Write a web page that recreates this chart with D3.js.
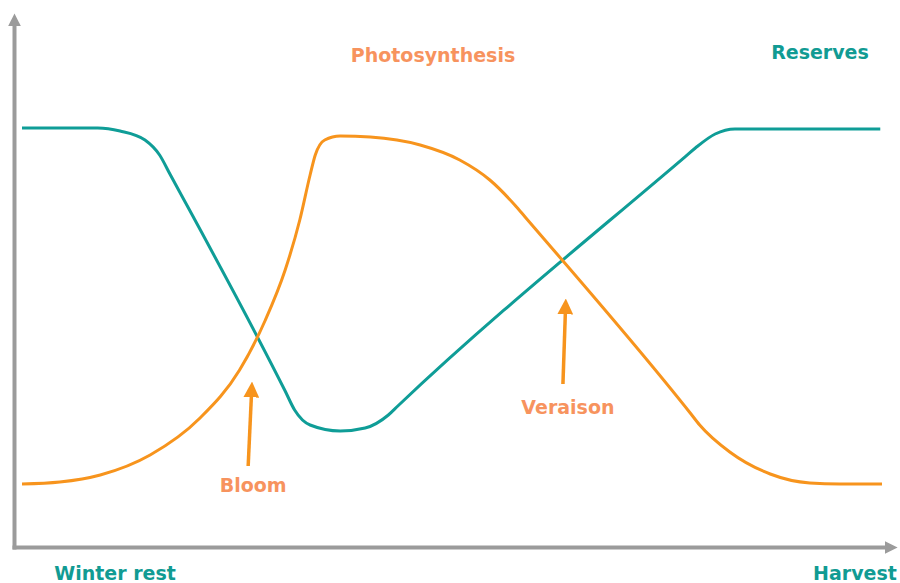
<!DOCTYPE html>
<html><head><meta charset="utf-8">
<script src="https://cdn.jsdelivr.net/npm/d3@7"></script>
<style>
html,body{margin:0;padding:0;background:#fff;}
text{font-family:"DejaVu Sans",Verdana,sans-serif;font-weight:bold;}
</style></head>
<body><svg id="c" width="900" height="583"></svg>
<script>
// Time axis in arbitrary units 0..100 (Winter rest -> Harvest), level 0..100
const reservesX = [0, 8.8, 11.4, 14.3, 16.0, 17.2, 30.6, 31.7, 33.5, 37.0, 39.9, 42.6, 43.7, 77.1, 78.3, 80.6, 82.9, 99.8];
const reservesY = [93, 93, 92.25, 90, 86.25, 81.5, 27.25, 22.5, 18.75, 17.25, 18, 21.25, 23.5, 85.8, 88, 91.5, 92.75, 92.75];
const photoX = [0, 4.4, 9.1, 14.9, 20.7, 25.3, 28.3, 30.6, 32.3, 33.5, 34.1, 35.2, 37.0, 40.5, 46.3, 50.9, 54.4, 57.3, 58.5, 77.7, 78.8, 82.3, 87.0, 91.6, 95.1, 100];
const photoY = [4, 4.5, 6.25, 11.25, 20.5, 32.5, 45, 57.5, 70, 81.25, 86.25, 90, 91, 90.75, 88.75, 85, 80, 73.75, 70.75, 21.75, 18.75, 12, 6.5, 4.25, 4, 4];
const eventLabels = ["Bloom", "Veraison"];
const eventX0 = [26.3, 62.9];
const eventX1 = [26.7, 63.2];
const eventY0 = [8.5, 29];
const eventY1 = [29.5, 50.25];
const eventLabelY = [2, 21.5];
const seriesLabels = ["Photosynthesis", "Reserves"];
const axisLabels = ["Winter rest", "Harvest"];

const teal = "#0f9d97", tealText = "#119b93", orange = "#f7941d", orangeText = "#f7935e", gray = "#9b9b9b";

const svg = d3.select("#c");
const x = d3.scaleLinear().domain([0, 100]).range([22, 882]);
const y = d3.scaleLinear().domain([0, 100]).range([500, 100]);

// axes
const defs = svg.append("defs");
defs.append("marker").attr("id","arr").attr("viewBox","0 0 10 10").attr("refX",6).attr("refY",5)
  .attr("markerWidth",3.2).attr("markerHeight",3.2).attr("orient","auto")
  .append("path").attr("d","M0,0L10,5L0,10Z").attr("fill",gray);
defs.append("marker").attr("id","arrO").attr("viewBox","0 0 10 10").attr("refX",4).attr("refY",5)
  .attr("markerWidth",4.5).attr("markerHeight",4.5).attr("orient","auto")
  .append("path").attr("d","M0,0L10,5L0,10Z").attr("fill",orange);

const xAxisScale = d3.scaleLinear().domain([0, 1]).range([12, 892]);
const yAxisScale = d3.scaleLinear().domain([0, 1]).range([549, 18]);
const gx = svg.append("g").attr("transform","translate(0,547)")
  .call(d3.axisBottom(xAxisScale).tickValues([]).tickSizeOuter(0));
gx.select(".domain").attr("stroke",gray).attr("stroke-width",4).attr("marker-end","url(#arr)");
const gy = svg.append("g").attr("transform","translate(14,0)")
  .call(d3.axisLeft(yAxisScale).tickValues([]).tickSizeOuter(0));
gy.select(".domain").attr("stroke",gray).attr("stroke-width",4).attr("marker-end","url(#arr)");

const line = d3.line().x(d => x(d[0])).y(d => y(d[1])).curve(d3.curveMonotoneX);
svg.append("path").datum(reservesX.map((v,i)=>[v,reservesY[i]]))
  .attr("d", line).attr("fill","none").attr("stroke",teal).attr("stroke-width",3);
svg.append("path").datum(photoX.map((v,i)=>[v,photoY[i]]))
  .attr("d", line).attr("fill","none").attr("stroke",orange).attr("stroke-width",3);

// event arrows
eventLabels.forEach((lab,i)=>{
  svg.append("line").attr("x1",x(eventX0[i])).attr("y1",y(eventY0[i]))
    .attr("x2",x(eventX1[i])).attr("y2",y(eventY1[i]) + 9)
    .attr("stroke",orange).attr("stroke-width",3.5).attr("marker-end","url(#arrO)");
  svg.append("text").attr("x",x(eventX0[i]) + 5).attr("y",y(eventLabelY[i]))
    .attr("text-anchor","middle").attr("font-size",19).attr("fill",orangeText).text(lab);
});

svg.append("text").attr("x",433).attr("y",62).attr("text-anchor","middle")
  .attr("font-size",19).attr("fill",orangeText).text(seriesLabels[0]);
svg.append("text").attr("x",820).attr("y",59).attr("text-anchor","middle")
  .attr("font-size",19).attr("fill",tealText).text(seriesLabels[1]);
svg.append("text").attr("x",115).attr("y",580).attr("text-anchor","middle")
  .attr("font-size",19).attr("fill",tealText).text(axisLabels[0]);
svg.append("text").attr("x",855).attr("y",580).attr("text-anchor","middle")
  .attr("font-size",19).attr("fill",tealText).text(axisLabels[1]);
</script></body></html>
